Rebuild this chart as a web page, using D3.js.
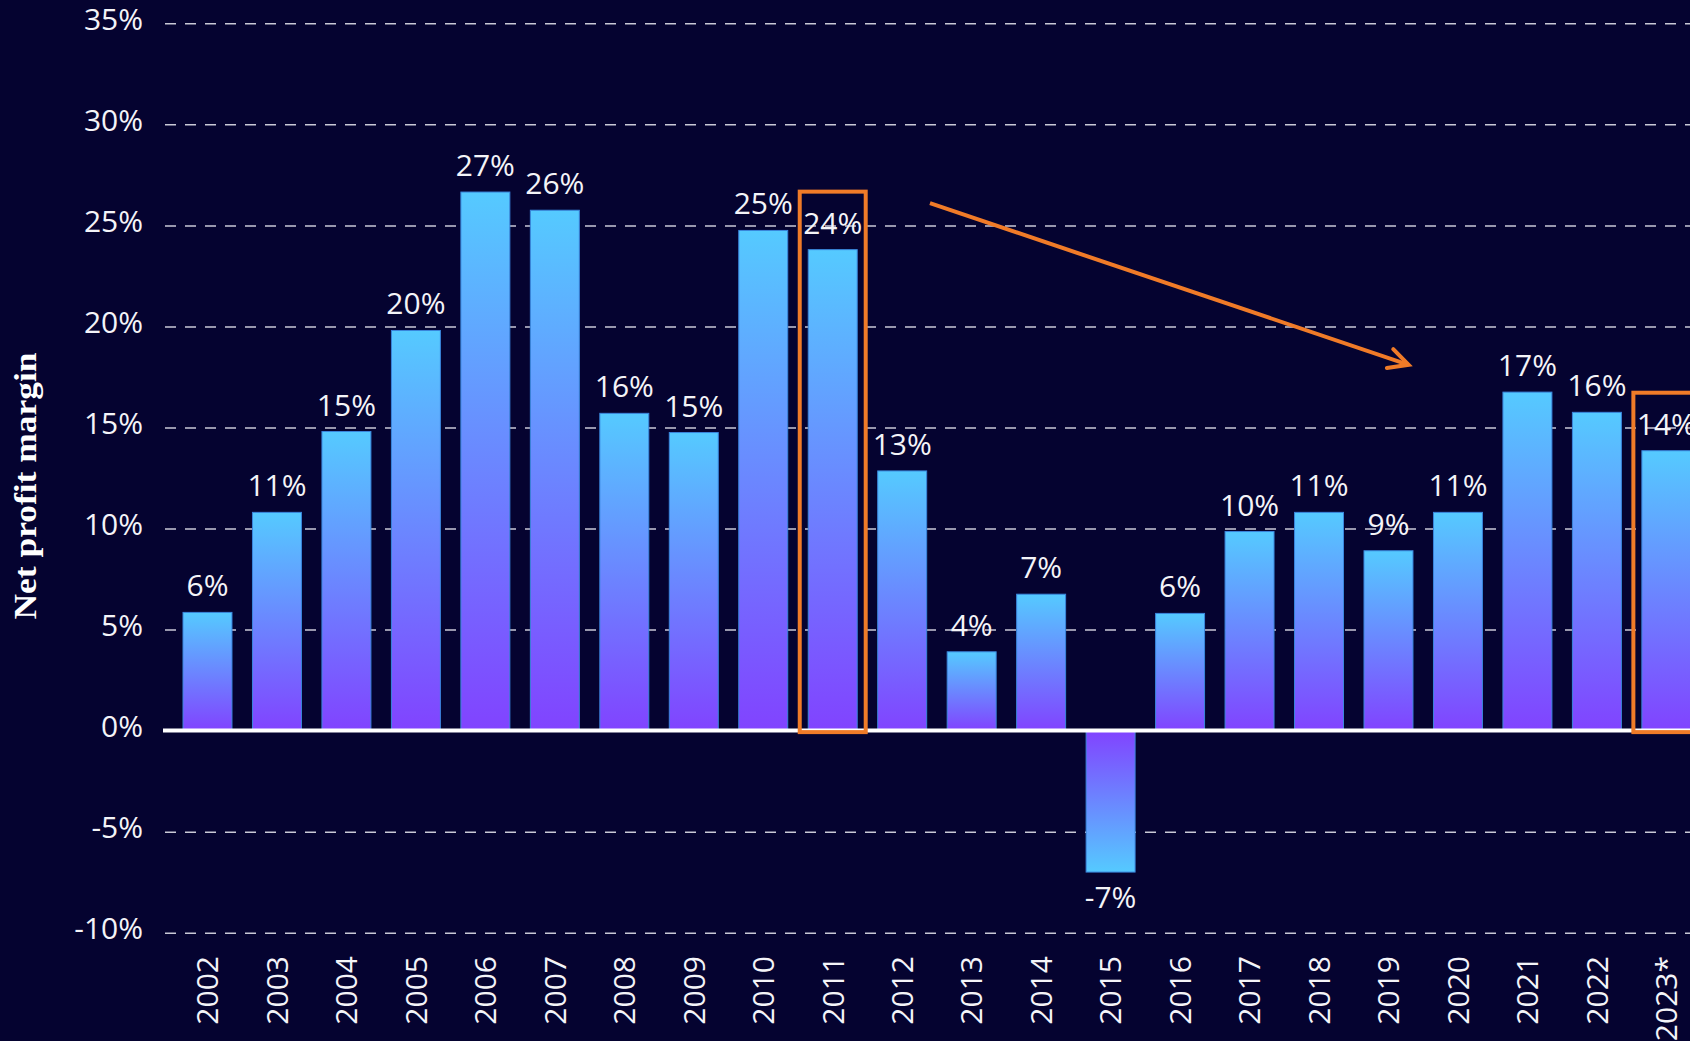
<!DOCTYPE html>
<html>
<head>
<meta charset="utf-8">
<script src="https://cdn.jsdelivr.net/npm/d3@7"></script>
<style>
  html, body { margin: 0; padding: 0; background: #050330; overflow: hidden; }
  svg { display: block; }
</style>
</head>
<body>
<svg id="chart" width="1690" height="1041"></svg>
<script>
// ---- data ----
const years = ["2002","2003","2004","2005","2006","2007","2008","2009","2010","2011","2012",
               "2013","2014","2015","2016","2017","2018","2019","2020","2021","2022","2023*"];
const margins = [5.85, 10.8, 14.8, 19.8, 26.65, 25.75, 15.7, 14.75, 24.75, 23.8, 12.85,
                 3.9, 6.75, -7.0, 5.8, 9.85, 10.8, 8.9, 10.8, 16.75, 15.75, 13.85];
const yTicks = [-10, -5, 0, 5, 10, 15, 20, 25, 30, 35];
const highlighted = ["2011", "2023*"];
const yTitle = "Net profit margin";
// arrow annotation in data units: [band index position, value %]
const arrowFrom = [10.9, 26.1];
const arrowTo = [17.79, 18.1];

// ---- setup ----
const W = 1690, H = 1041;
const svg = d3.select("#chart");
const orange = "#f07b28";
const font = "'Open Sans', 'Noto Sans', sans-serif";

const x = d3.scaleBand().domain(years).range([172.75, 1701.1])
  .paddingInner(0.295).paddingOuter(0.1475);
const y = d3.scaleLinear().domain([-10, 35]).range([932.7, 23.3]);
const gridLeft = 165;

svg.append("rect").attr("width", W).attr("height", H).attr("fill", "#050330");

// gradients
const defs = svg.append("defs");
const gPos = defs.append("linearGradient").attr("id", "gPos")
  .attr("x1", 0).attr("y1", 0).attr("x2", 0).attr("y2", 1);
gPos.append("stop").attr("offset", "0%").attr("stop-color", "#55caff");
gPos.append("stop").attr("offset", "100%").attr("stop-color", "#8143ff");
const gNeg = defs.append("linearGradient").attr("id", "gNeg")
  .attr("x1", 0).attr("y1", 0).attr("x2", 0).attr("y2", 1);
gNeg.append("stop").attr("offset", "0%").attr("stop-color", "#8143ff");
gNeg.append("stop").attr("offset", "100%").attr("stop-color", "#55caff");

// y axis + grid
const yAxis = d3.axisLeft(y).tickValues(yTicks).tickFormat(d => d + "%")
  .tickSize(-(W - gridLeft)).tickPadding(22);
const ga = svg.append("g").attr("transform", `translate(${gridLeft},0)`).call(yAxis);
ga.select(".domain").remove();
ga.selectAll(".tick line")
  .attr("stroke", "#c9c9d6").attr("stroke-width", 1.5).attr("stroke-dasharray", "11,9");
ga.selectAll(".tick text")
  .attr("fill", "#f4f4f8").attr("font-family", font).attr("font-size", 30)
  .attr("dy", null).attr("y", 6);

// bars
const data = years.map((yr, i) => ({ yr, v: margins[i] }));
svg.append("g").selectAll("rect").data(data).join("rect")
  .attr("x", d => x(d.yr))
  .attr("width", x.bandwidth())
  .attr("y", d => y(Math.max(0, d.v)))
  .attr("height", d => Math.abs(y(d.v) - y(0)))
  .attr("fill", d => d.v >= 0 ? "url(#gPos)" : "url(#gNeg)")
  .attr("stroke", "#3a86dc").attr("stroke-width", 1);

// zero line
svg.append("line")
  .attr("x1", gridLeft - 2).attr("x2", W)
  .attr("y1", y(0)).attr("y2", y(0))
  .attr("stroke", "#ffffff").attr("stroke-width", 4);

// value labels
svg.append("g").selectAll("text").data(data).join("text")
  .attr("x", d => x(d.yr) + x.bandwidth() / 2)
  .attr("y", d => d.v >= 0 ? y(d.v) - 16 : y(d.v) + 36)
  .attr("text-anchor", "middle")
  .attr("fill", "#f4f4f8").attr("font-family", font).attr("font-size", 30)
  .text(d => Math.round(d.v) + "%");

// x axis labels
const xAxis = d3.axisBottom(x).tickSize(0).tickPadding(0);
const gx = svg.append("g").attr("transform", `translate(0,956)`).call(xAxis);
gx.select(".domain").remove();
gx.selectAll(".tick text")
  .attr("fill", "#f4f4f8").attr("font-family", font).attr("font-size", 30)
  .attr("transform", "rotate(-90)")
  .attr("x", 0).attr("y", 0).attr("dy", "0.36em")
  .attr("text-anchor", "end");

// highlight boxes
svg.append("g").selectAll("rect").data(data.filter(d => highlighted.includes(d.yr))).join("rect")
  .attr("x", d => x(d.yr) - 8.5)
  .attr("width", x.bandwidth() + 17)
  .attr("y", d => y(d.v) - 58)
  .attr("height", d => y(0) + 1.5 - (y(d.v) - 58))
  .attr("fill", "none").attr("stroke", orange).attr("stroke-width", 4);

// arrow annotation
const ax = p => x.range()[0] + p * x.step();
const p0 = [ax(arrowFrom[0]), y(arrowFrom[1])];
const p1 = [ax(arrowTo[0]), y(arrowTo[1])];
const ang = Math.atan2(p1[1] - p0[1], p1[0] - p0[0]);
const hl = 22, spread = 27 * Math.PI / 180;
const b1 = [p1[0] - hl * Math.cos(ang - spread), p1[1] - hl * Math.sin(ang - spread)];
const b2 = [p1[0] - hl * Math.cos(ang + spread), p1[1] - hl * Math.sin(ang + spread)];
svg.append("path")
  .attr("d", d3.line()([p0, p1]))
  .attr("stroke", orange).attr("stroke-width", 4).attr("fill", "none");
svg.append("path")
  .attr("d", d3.line()([b1, p1, b2]))
  .attr("stroke", orange).attr("stroke-width", 4).attr("fill", "none")
  .attr("stroke-linejoin", "miter").attr("stroke-linecap", "round");

// y title
svg.append("text")
  .attr("transform", `translate(36,486) rotate(-90)`)
  .attr("text-anchor", "middle")
  .attr("font-family", "'Liberation Serif', 'DejaVu Serif', serif")
  .attr("font-weight", "bold").attr("font-size", 32)
  .attr("textLength", 267).attr("lengthAdjust", "spacingAndGlyphs")
  .attr("fill", "#ffffff")
  .text(yTitle);
</script>
</body>
</html>
